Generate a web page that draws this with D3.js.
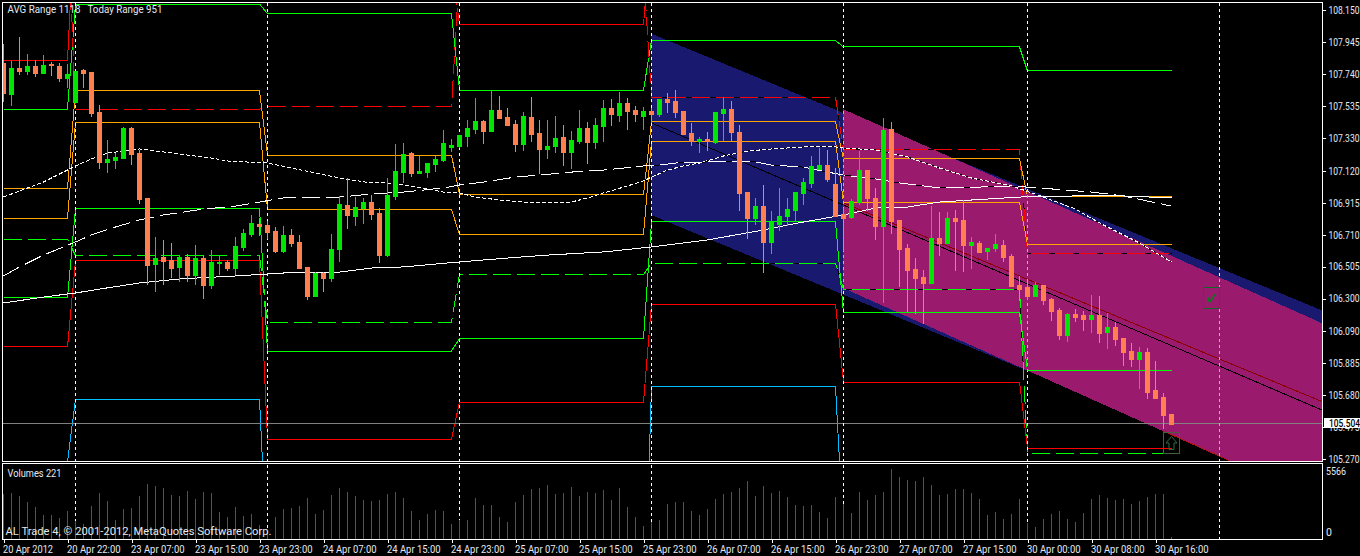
<!DOCTYPE html>
<html><head><meta charset="utf-8">
<script src="https://cdn.jsdelivr.net/npm/d3@7"></script>
<style>
html,body{margin:0;padding:0;background:#000;overflow:hidden}
svg{display:block}
text{font-family:Roboto,sans-serif;font-size:10.5px;fill:#e4eaf2}
</style></head><body><svg id="c" width="1360" height="556"></svg>
<script>
const highs=[107.932,107.823,107.977,107.868,107.829,107.861,107.817,107.810,107.804,107.759,107.772,107.752,107.541,107.317,107.233,107.400,107.400,107.253,106.945,106.695,106.676,106.656,106.579,106.586,106.644,106.579,106.612,106.579,106.547,106.695,106.746,106.836,106.817,106.797,106.759,106.765,106.746,106.708,106.503,106.470,106.470,106.714,106.958,107.073,106.951,106.945,106.964,106.881,107.073,107.291,107.297,107.240,107.214,107.169,107.214,107.381,107.323,107.349,107.445,107.586,107.445,107.631,107.599,107.522,107.445,107.496,107.592,107.445,107.445,107.470,107.413,107.374,107.509,107.432,107.458,107.573,107.579,107.624,107.586,107.535,107.528,107.522,107.579,107.618,107.637,107.503,107.426,107.336,107.368,107.496,107.592,107.567,107.413,106.983,106.945,107.028,106.861,107.009,106.945,106.983,107.073,107.214,107.265,107.253,107.137,106.881,106.938,107.246,107.124,107.009,107.458,107.432,106.804,106.650,106.560,106.483,106.893,106.855,106.855,106.868,106.932,106.695,106.669,106.624,106.714,106.676,106.586,106.445,106.419,106.406,106.387,106.304,106.240,106.208,106.233,106.220,106.323,106.317,106.208,106.150,106.048,106.015,105.990,105.983,105.900,105.695,105.560];
const bodyTops=[107.810,107.778,107.778,107.791,107.791,107.797,107.804,107.791,107.740,107.759,107.765,107.752,107.496,107.195,107.208,107.394,107.394,107.233,106.945,106.560,106.567,106.547,106.567,106.567,106.560,106.560,106.535,106.535,106.535,106.637,106.720,106.784,106.778,106.772,106.733,106.708,106.708,106.663,106.503,106.464,106.464,106.618,106.906,106.900,106.887,106.919,106.919,106.849,106.964,107.118,107.227,107.233,107.118,107.169,107.195,107.297,107.285,107.349,107.394,107.438,107.438,107.509,107.509,107.464,107.419,107.470,107.464,107.361,107.278,107.329,107.336,107.317,107.394,107.394,107.413,107.522,107.522,107.554,107.554,107.509,107.503,107.503,107.579,107.579,107.567,107.503,107.361,107.323,107.323,107.496,107.515,107.515,107.368,106.983,106.893,106.893,106.791,106.829,106.874,106.983,107.047,107.150,107.156,107.156,107.035,106.842,106.926,107.124,107.124,106.945,107.381,107.387,106.804,106.624,106.490,106.438,106.688,106.688,106.817,106.817,106.804,106.663,106.656,106.624,106.650,106.644,106.573,106.387,106.374,106.387,106.387,106.297,106.227,106.201,106.201,106.195,106.195,106.195,106.118,106.118,106.048,105.964,105.958,105.958,105.714,105.669,105.560];
const bodyBottoms=[107.618,107.611,107.759,107.759,107.746,107.746,107.797,107.714,107.714,107.560,107.746,107.490,107.176,107.176,107.188,107.201,107.227,106.938,106.515,106.522,106.541,106.496,106.503,106.451,106.451,106.387,106.387,106.528,106.496,106.496,106.631,106.714,106.765,106.727,106.605,106.605,106.656,106.496,106.317,106.317,106.432,106.432,106.618,106.836,106.829,106.881,106.842,106.579,106.579,106.958,107.111,107.105,107.105,107.111,107.163,107.188,107.272,107.278,107.342,107.387,107.374,107.374,107.458,107.413,107.291,107.291,107.355,107.259,107.259,107.278,107.240,107.240,107.310,107.304,107.304,107.406,107.483,107.477,107.503,107.483,107.470,107.483,107.483,107.560,107.496,107.355,107.310,107.310,107.310,107.304,107.490,107.368,106.977,106.817,106.817,106.663,106.663,106.778,106.829,106.868,106.977,107.041,107.131,107.067,106.829,106.817,106.823,106.919,106.945,106.765,106.765,106.797,106.618,106.483,106.432,106.400,106.400,106.656,106.656,106.797,106.644,106.644,106.599,106.605,106.624,106.567,106.381,106.361,106.317,106.317,106.291,106.220,106.067,106.067,106.182,106.169,106.169,106.080,106.086,106.041,105.958,105.913,105.913,105.701,105.663,105.554,105.496];
const lows=[107.567,107.541,107.740,107.740,107.727,107.746,107.733,107.695,107.656,107.560,107.656,107.470,107.137,107.111,107.137,107.201,107.163,106.913,106.394,106.349,106.394,106.438,106.413,106.413,106.394,106.304,106.368,106.458,106.483,106.458,106.612,106.701,106.708,106.688,106.599,106.599,106.637,106.496,106.297,106.317,106.349,106.413,106.541,106.753,106.772,106.785,106.810,106.535,106.573,106.938,107.047,107.086,107.105,107.079,107.118,107.182,107.246,107.272,107.278,107.361,107.297,107.374,107.458,107.413,107.246,107.253,107.310,107.105,107.201,107.240,107.156,107.137,107.297,107.169,107.265,107.310,107.413,107.438,107.387,107.438,107.387,107.432,107.470,107.496,107.464,107.355,107.285,107.240,107.253,107.297,107.317,107.317,106.868,106.688,106.778,106.470,106.592,106.740,106.772,106.797,106.906,107.015,107.131,107.054,106.829,106.612,106.817,106.906,106.868,106.682,106.278,106.720,106.381,106.220,106.208,106.144,106.400,106.579,106.656,106.483,106.477,106.496,106.599,106.554,106.605,106.541,106.381,106.291,106.297,106.317,106.265,106.163,106.041,106.028,106.156,106.099,106.086,106.022,105.983,106.003,105.874,105.868,105.727,105.663,105.663,105.470,105.496];
const directions=["dudududduu","ddduuudddu","ddududuudu","uudddudddu","duuduudduu","uduuuuuuuu","dudddudduu","duuduududd","ududdddudu","uddduduuuu","uuuddduudd","udddddudud","duduuddddu","ddduddudud","ddudddd"].join("");
const volumes=[3375,3450,3225,2775,2400,1800,1800,1575,2100,1350,1125,2475,3450,2850,1425,2250,2325,3225,4125,3975,3825,3300,3225,3600,3000,3525,3450,2025,1650,2400,1725,1875,1050,600,1650,2250,2325,2475,3075,1875,2175,3300,3825,3525,3225,2925,2850,2925,3375,3525,3075,2100,1425,1875,2175,2100,1125,1425,1425,3075,2550,2550,1650,1275,2775,3300,3750,3825,4050,3375,3450,3900,3225,3525,3450,3675,2925,3825,2400,1650,975,1275,1425,2625,2775,2775,2100,1800,2250,3000,3375,3525,3825,4350,3225,3975,3450,3600,3150,2550,2475,2550,2025,1575,3150,2625,1950,3525,2925,3300,3525,5250,4650,4425,4350,4650,4050,3300,3375,3750,3750,3450,3000,1800,2025,1500,1875,3000,1200,900,1500,1875,2100,1500,1275,1950,3000,3300,3075,2925,3000,2625,2850,3150,3375,3375,150];
const volumeColors=["ggrrrrgrgr","gggrgggggr","rrrgrgrrrg","rgrrgggggr","gggrrrrggg","rrrggrrggg","rgrrgggggr","ggrgrgrgrr","rggggrrrgg","ggggrgrgrr","rgrrgrrgrg","ggrrrgrrgg","rrrrgrggrr","gggrrgggrr","grgggrr"].join("");
const priceTicks=[108.150,107.945,107.740,107.535,107.330,107.120,106.915,106.710,106.505,106.300,106.090,105.885,105.680,105.475,105.270];
const timeTickBars=[0,8,16,24,32,40,48,56,64,72,80,88,96,104,112,120,128,136,144];
const timeLabels=["20 Apr 2012","20 Apr 22:00","23 Apr 07:00","23 Apr 15:00","23 Apr 23:00","24 Apr 07:00","24 Apr 15:00","24 Apr 23:00","25 Apr 07:00","25 Apr 15:00","25 Apr 23:00","26 Apr 07:00","26 Apr 15:00","26 Apr 23:00","27 Apr 07:00","27 Apr 15:00","30 Apr 00:00","30 Apr 08:00","30 Apr 16:00"];
const sessionStarts=[0,9,33,57,81,105,128];
const lastBar=146;
const separators=[9,33,57,81,105,128,152];
const greenUpper=[107.515,108.188,108.127,107.637,107.954,107.913,107.759];
const redUpper=[107.825,108.855,108.470,108.054,108.701];
const redDashed=[108.791,107.515,107.530,108.406,107.592,107.253,106.592];
const orangeA=[107.006,107.634,107.220,106.967,107.432,107.195,106.954];
const orangeB=[106.813,107.429,106.871,106.711,107.310,106.916,106.647];
const greenLower=[106.304,106.878,105.964,106.044,106.791,106.208,105.842];
const greenDashed=[106.682,106.576,106.148,106.454,106.528,106.361,105.310];
const redLower=[105.990,106.541,105.400,105.637,106.265,105.765,105.342];
const blueLower=[105.252,105.656,104.579,104.112,105.736,104.778];
const maFastBars=[0,3,5,8,9,11,13,17,20,23,26,28,33,36,39,42,46,48,50,53,55,57,59,62,65,68,71,73,75,78,80,81,83,85,87,90,93,96,100,104,105,109,113,117,121,126,129,134,137,142,146];
const maFast=[106.951,107.009,107.047,107.124,107.150,107.195,107.233,107.259,107.240,107.220,107.201,107.182,107.169,107.137,107.105,107.073,107.041,107.041,107.028,107.003,106.983,106.977,106.951,106.932,106.919,106.913,106.919,106.945,106.977,107.022,107.054,107.079,107.124,107.150,107.169,107.214,107.246,107.259,107.272,107.272,107.265,107.253,107.208,107.137,107.073,107.022,106.970,106.874,106.785,106.656,106.535];
const maMidBars=[0,2,5,9,11,14,17,20,25,29,32,35,40,42,46,50,55,57,60,64,67,71,75,80,81,84,88,91,94,96,100,103,105,109,112,117,122,126,131,136,140,146];
const maMid=[106.445,106.503,106.579,106.663,106.708,106.759,106.804,106.836,106.874,106.893,106.919,106.945,106.951,106.951,106.970,106.983,107.009,107.028,107.047,107.079,107.092,107.111,107.124,107.150,107.150,107.169,107.176,107.182,107.176,107.156,107.143,107.111,107.092,107.067,107.041,107.009,107.015,107.022,107.003,106.983,106.958,106.893];
const maSlowBars=[0,5,9,12,17,22,29,35,42,46,50,57,63,68,75,81,88,95,100,105,109,113,117,121,127,134,140,146];
const maSlow=[106.272,106.310,106.336,106.361,106.400,106.426,106.445,106.464,106.470,106.496,106.503,106.535,106.560,106.579,106.599,106.631,106.676,106.740,106.791,106.836,106.881,106.887,106.919,106.932,106.951,106.958,106.958,106.945];
const channelRight=165.375;
const blueBandBars=[81,channelRight];
const blueBandTop=[107.999,106.214];
const blueBandBottom=[106.836,105.044];
const pinkBandBars=[105,channelRight];
const pinkBandTop=[107.515,106.131];
const pinkBandBottom=[106.368,104.983];
const pinkEdgeBars=[145,channelRight];
const pinkEdge=[105.451,104.983];
const blackMidBars=[81,channelRight];
const blackMid=[107.426,105.573];
const redMidBars=[105,channelRight];
const redMid=[106.913,105.628];
const bidPrice=105.504;
const checkBoxBars=[150,152], checkBoxPrices=[106.374,106.240];
const arrowBoxBars=[145,147], arrowBoxPrices=[105.445,105.310];
const topLabel="AVG Range 1118   Today Range 951", volLabel="Volumes 221", copyLabel="AL Trade 4, © 2001-2012, MetaQuotes Software Corp.";

const svg=d3.select("#c");
const x=d3.scaleLinear().domain([0,channelRight]).range([3,1326]);
const y=d3.scaleLinear().domain([105.259,108.214]).range([461,0]);
const yVol=d3.scaleLinear().domain([0,5566]).range([539,465]);
const defs=svg.append("defs");
defs.append("clipPath").attr("id","main").append("rect").attr("x",3).attr("y",3).attr("width",1319).attr("height",458);
defs.append("clipPath").attr("id","vol").append("rect").attr("x",3).attr("y",464).attr("width",1319).attr("height",75);
const main=svg.append("g").attr("clip-path","url(#main)");
const band=(bars,top,bot)=>[[x(bars[0]),y(top[0])],[x(bars[1]),y(top[1])],[x(bars[1]),y(bot[1])],[x(bars[0]),y(bot[0])]];
const bluePts=band(blueBandBars,blueBandTop,blueBandBottom), pinkPts=band(pinkBandBars,pinkBandTop,pinkBandBottom);
main.append("polygon").attr("points",bluePts.join(" ")).attr("fill","#191970").attr("shape-rendering","crispEdges");
main.append("polygon").attr("points",pinkPts.join(" ")).attr("fill","#9a1a6e").attr("shape-rendering","crispEdges");
defs.append("clipPath").attr("id","pink").append("polygon").attr("points",pinkPts.join(" "));
const lineGen=d3.line().x(d=>x(d[0])+.5).y(d=>y(d[1]));
function drawLine(bars,vals,color,dash){
  const pts=bars.map((b,i)=>[b,vals[i]]);
  main.append("path").attr("d",lineGen(pts)).attr("fill","none").attr("stroke",dash?"#000":color).attr("stroke-width",1).attr("shape-rendering","crispEdges");
  if(dash) main.append("path").attr("d",lineGen(pts)).attr("fill","none").attr("stroke",color).attr("stroke-width",1).attr("stroke-dasharray",dash).attr("shape-rendering","crispEdges");
}
function sessionLine(levels,color,dash){
  const bars=[],vals=[];
  levels.forEach((v,i)=>{
    const a=sessionStarts[i];
    const b=i+1<sessionStarts.length?sessionStarts[i+1]-1:lastBar;
    bars.push(a,b);vals.push(v,v);
  });
  drawLine(bars,vals,color,dash);
}
drawLine(pinkEdgeBars,pinkEdge,"#b01414");
drawLine(blackMidBars,blackMid,"#000");
drawLine(redMidBars,redMid,"#8b0000");
sessionLine(greenUpper,"#00ff00");
sessionLine(redUpper,"#ff0000");
sessionLine(redDashed,"#ff0000","18 6");
sessionLine(orangeA,"#ffa500");
sessionLine(orangeB,"#ffa500");
sessionLine(greenLower,"#00ff00");
sessionLine(greenDashed,"#00ff00","18 6");
sessionLine(redLower,"#ff0000");
sessionLine(blueLower,"#00bfff");
drawLine(maFastBars,maFast,"#fff","4 2");
drawLine(maMidBars,maMid,"#fff","18 6");
drawLine(maSlowBars,maSlow,"#fff");
main.append("line").attr("x1",3).attr("x2",1322).attr("y1",Math.round(y(bidPrice))+.5).attr("y2",Math.round(y(bidPrice))+.5).attr("stroke","#808080");
// separators
const sepG=svg.append("g");
sepG.selectAll("line").data(separators).join("line").attr("x1",d=>x(d)+.5).attr("x2",d=>x(d)+.5).attr("y1",3).attr("y2",539).attr("stroke","#fff").attr("stroke-dasharray","3 3").attr("shape-rendering","crispEdges");
svg.append("g").attr("clip-path","url(#pink)").selectAll("line").data(separators).join("line").attr("x1",d=>x(d)+.5).attr("x2",d=>x(d)+.5).attr("y1",3).attr("y2",461).attr("stroke","#9a1a6e").attr("stroke-width",1).attr("shape-rendering","crispEdges");
svg.append("g").attr("clip-path","url(#pink)").selectAll("line").data(separators).join("line").attr("x1",d=>x(d)+.5).attr("x2",d=>x(d)+.5).attr("y1",3).attr("y2",461).attr("stroke","#8fd0a8").attr("stroke-dasharray","3 3").attr("shape-rendering","crispEdges");
const upper=svg.append("g").attr("clip-path","url(#main)");
// icon boxes
const drawBox=(bx,pr,stroke)=>{
  const bx0=x(bx[0]), bx1=x(bx[1]), t=Math.round(y(pr[0])), b=Math.round(y(pr[1]));
  upper.append("rect").attr("x",bx0+.5).attr("y",t+.5).attr("width",bx1-bx0).attr("height",b-t).attr("fill","none").attr("stroke",stroke).attr("shape-rendering","crispEdges");
  return [(bx0+bx1)/2+.5,(t+b)/2+.5];
};
const cc=drawBox(checkBoxBars,checkBoxPrices,"#166428");
upper.append("path").attr("transform",`translate(${cc[0]},${cc[1]})`).attr("d","M-5,0 L-2.5,-1 L-1.5,2 L4,-5 L5,-4.5 L-1,4.5 L-2.5,4.5 Z").attr("fill","#0a7a1c");
const ca=drawBox(arrowBoxBars,arrowBoxPrices,"#46603c");
upper.append("path").attr("transform",`translate(${ca[0]},${ca[1]})`).attr("d","M0,-6.5 L5.5,0 L2.5,0 L2.5,6.5 L-2.5,6.5 L-2.5,0 L-5.5,0 Z").attr("fill","none").attr("stroke","#2f6a3f");
// candles
const bars=d3.range(highs.length);
const cg=upper.append("g").attr("shape-rendering","crispEdges");
const col=i=>directions[i]==="u"?"#00e600":"#ff7f50";
cg.selectAll(".w").data(bars).join("rect").attr("class","w").attr("x",i=>x(i)).attr("width",1).attr("y",i=>Math.round(y(highs[i]))).attr("height",i=>Math.round(y(lows[i]))-Math.round(y(highs[i]))+1).attr("fill",col);
cg.selectAll(".b").data(bars).join("rect").attr("class","b").attr("x",i=>x(i)-2).attr("width",5).attr("y",i=>Math.round(y(bodyTops[i]))).attr("height",i=>Math.round(y(bodyBottoms[i]))-Math.round(y(bodyTops[i]))+1).attr("fill",col);
// volume
svg.append("g").attr("clip-path","url(#vol)").attr("shape-rendering","crispEdges").selectAll("rect").data(volumes).join("rect")
  .attr("x",(d,i)=>x(i)).attr("width",1).attr("y",d=>Math.round(yVol(d))).attr("height",d=>539-Math.round(yVol(d)))
  .attr("fill",(d,i)=>volumeColors[i]==="g"?"#1a7a1a":"#e5141a");
// frames
const frame=svg.append("g").attr("fill","none").attr("stroke","#fff").attr("shape-rendering","crispEdges");
frame.append("rect").attr("x",2.5).attr("y",2.5).attr("width",1320).attr("height",459);
frame.append("rect").attr("x",2.5).attr("y",463.5).attr("width",1320).attr("height",76);
// axes
const fit=(sel,w)=>sel.attr("textLength",w).attr("lengthAdjust","spacingAndGlyphs");
const ax=d3.axisRight(y).tickValues(priceTicks).tickSize(3).tickPadding(3).tickFormat(d3.format(".3f"));
const ag=svg.append("g").attr("transform","translate(1322.5,0)").call(ax);
ag.select(".domain").remove();ag.selectAll("line").attr("stroke","#fff").attr("shape-rendering","crispEdges");
fit(ag.selectAll("text"),31);
const av=d3.axisRight(yVol).tickValues([0,5566]).tickSize(0).tickPadding(3.5).tickFormat(d3.format("d"));
const vg=svg.append("g").attr("transform","translate(1322.5,0)").call(av);
vg.select(".domain").remove();
vg.selectAll("text").attr("dy",d=>d===0?"-3.5px":"9px");
fit(vg.selectAll(".tick").filter(d=>d>0).select("text"),20);
const tx=d3.axisBottom(x).tickValues(timeTickBars).tickSize(3).tickPadding(3).tickFormat((d,i)=>timeLabels[i]);
const tg=svg.append("g").attr("transform","translate(0.5,539.5)").call(tx);
tg.select(".domain").remove();tg.selectAll("line").attr("stroke","#fff").attr("shape-rendering","crispEdges");
tg.selectAll("text").attr("text-anchor","start").attr("x",-1).attr("y",3).attr("dy","10px");
fit(tg.selectAll("text").filter((d,i)=>i>0),53.5);
fit(tg.selectAll("text").filter((d,i)=>i===0),50);
svg.selectAll(".tick text").style("font-family","Roboto,sans-serif").style("font-size","10.5px").style("fill","#e4eaf2");
// bid label
svg.append("rect").attr("x",1324).attr("y",Math.round(y(bidPrice))-5).attr("width",36).attr("height",10).attr("fill","#fff");
fit(svg.append("text").attr("x",1329).attr("y",Math.round(y(bidPrice))+4).style("fill","#000").style("font-weight","500").text(d3.format(".3f")(bidPrice)),31);
// texts
fit(svg.append("text").attr("x",7.5).attr("y",12.5).attr("xml:space","preserve").style("white-space","pre").text(topLabel),155);
fit(svg.append("text").attr("x",7.5).attr("y",477).text(volLabel),54);
fit(svg.append("text").attr("x",5.5).attr("y",535).style("font-size","11.5px").text(copyLabel),266);
</script></body></html>
